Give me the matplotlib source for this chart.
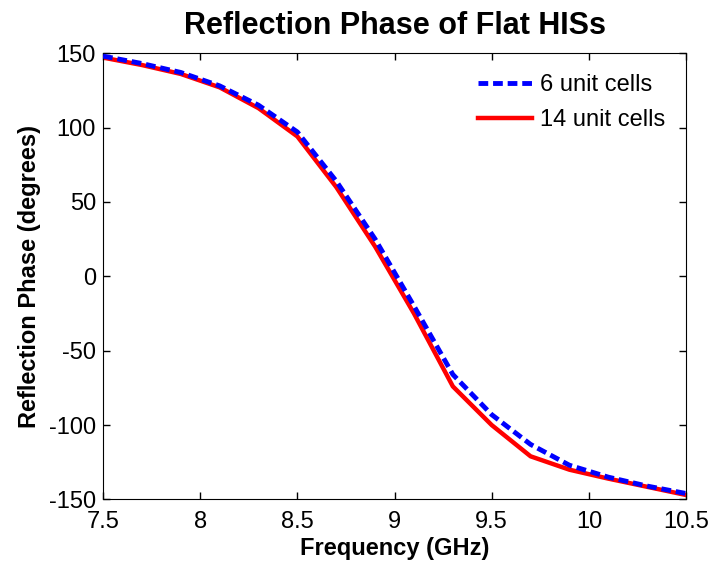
import matplotlib.pyplot as plt

# frekuensi (GHz)
freq = [7.5, 7.7, 7.9, 8.1, 8.3, 8.5, 8.7, 8.9, 9.1, 9.3, 9.5, 9.7, 9.9, 10.1, 10.3, 10.5]

# fase refleksi (derajat)
phase_6 = [148, 143, 137, 128, 115, 97, 64, 25, -20, -66, -93, -113, -127, -135, -141, -146]
phase_14 = [147, 142, 136, 127, 113, 94, 60, 20, -25, -74, -100, -121, -130, -136, -141.5, -147]

xticks = [7.5, 8, 8.5, 9, 9.5, 10, 10.5]
xticklabels = ['7.5', '8', '8.5', '9', '9.5', '10', '10.5']
yticks = [-150, -100, -50, 0, 50, 100, 150]

plt.rcParams['font.family'] = ['Liberation Sans', 'DejaVu Sans']
plt.rcParams['axes.unicode_minus'] = False

fig = plt.figure(figsize=(7.08, 5.65), dpi=100)
ax = fig.add_axes([0.1455, 0.116, 0.8235, 0.79])

ax.plot(freq, phase_14, color='red', linestyle='-', linewidth=3.2, label='14 unit cells', zorder=2)
ax.plot(freq, phase_6, color='blue', linestyle='--', linewidth=3.5, dashes=(2, 1), label='6 unit cells', zorder=3)

ax.set_xlim(7.5, 10.5)
ax.set_ylim(-150, 150)
ax.set_xticks(xticks)
ax.set_xticklabels(xticklabels)
ax.set_yticks(yticks)
ax.tick_params(direction='in', top=True, right=True, labelsize=17, length=5, width=1)
ax.tick_params(axis='y', pad=5)
ax.tick_params(axis='x', pad=8)

ax.set_title('Reflection Phase of Flat HISs', fontsize=22, fontweight='bold', pad=14)
ax.set_xlabel('Frequency (GHz)', fontsize=17, fontweight='bold', labelpad=3)
ax.set_ylabel('Reflection Phase (degrees)', fontsize=17, fontweight='bold', labelpad=6)

# urutan legenda: 6 unit cells dulu
handles, labels = ax.get_legend_handles_labels()
ax.legend(handles[::-1], labels[::-1], loc='upper right', frameon=False, fontsize=17,
          handlelength=2.3, handletextpad=0.3, borderaxespad=0.6, labelspacing=0.55,
          borderpad=0.3)

plt.savefig('out.png', dpi=100)
